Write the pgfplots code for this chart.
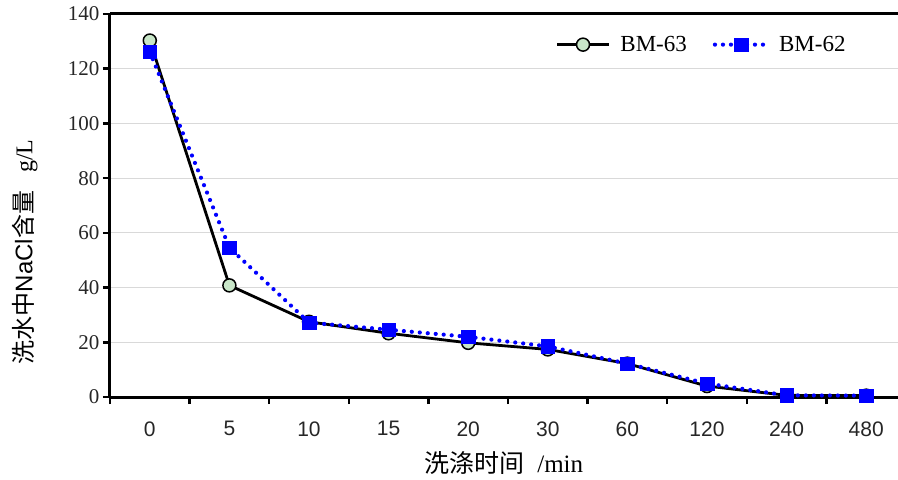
\documentclass[border=0pt]{standalone}
\usepackage{fontspec}
\setmainfont{Liberation Serif}
\setsansfont{Liberation Sans}
\newfontfamily\cjk{Noto Sans CJK SC}
\usepackage{pgfplots}
\pgfplotsset{compat=1.18}
\definecolor{mkfill}{RGB}{200,230,200}
\definecolor{gridc}{RGB}{217,217,217}
\begin{document}
\begin{tikzpicture}
\begin{axis}[
 name=ax,
 scale only axis, width=788pt, height=383pt,
 xmin=-0.5, xmax=9.4, ymin=0, ymax=140,
 axis x line=box, axis y line=left,
 x axis line style={-, line width=3pt},
 y axis line style={-, line width=3pt},
 xtick={0,...,9},
 xticklabels={0,5,10,15,20,30,60,120,240,480},
 major x tick style={draw=none},
 minor xtick={-0.5,0.5,...,8.5},
 minor x tick style={line width=2.5pt, black},
 minor tick length=7pt,
 xtick pos=left,
 ytick={0,20,...,140},
 ytick pos=left,
 major y tick style={line width=2.5pt, black},
 major tick length=7pt,
 tick align=outside,
 ymajorgrids, grid style={gridc, line width=1.2pt},
 /pgf/number format/assume math mode=true,
 xticklabel style={font=\sffamily\fontsize{21}{21}\selectfont, text=black!85, yshift=-14pt},
 yticklabel style={font=\fontsize{21}{21}\selectfont, text=black!85},
 xlabel={{\cjk 洗涤时间}\ \ /min},
 xlabel style={font=\fontsize{25}{25}\selectfont, at={(axis description cs:0.5,-0.172)}, anchor=center},
 ylabel={{\cjk 洗水中}{\sffamily NaCl}{\cjk 含量}\ \ \ g/L},
 ylabel style={font=\fontsize{24}{24}\selectfont, at={(axis description cs:-0.108,0.379)}, anchor=center, rotate=0},
 legend style={draw=none, fill=none, at={(0.94,0.92)}, anchor=east, legend columns=2,
   font=\fontsize{23}{23}\selectfont,
   /tikz/every odd column/.append style={column sep=8pt},
   /tikz/every even column/.append style={column sep=24pt}},
 legend image code/.code={\draw[mark repeat=2,mark phase=2,#1] plot coordinates {(0pt,0pt) (26pt,0pt) (52pt,0pt)};},
]
\addplot[black, line width=2.8pt, mark=*, mark size=6.5pt,
  mark options={fill=mkfill, draw=black, line width=1.5pt}]
  coordinates {(0,130.3) (1,40.8) (2,27.5) (3,23.3) (4,19.8) (5,17.4) (6,12.2) (7,4.0) (8,0.6) (9,0.5)};
\addlegendentry{BM-63}
\addplot[blue, line width=4.2pt, line cap=round, dash pattern=on 0pt off 8pt,
  mark=square*, mark size=6.8pt,
  mark options={solid, fill=blue, draw=blue, line width=0.5pt}]
  coordinates {(0,126.2) (1,54.6) (2,27.2) (3,24.6) (4,22.0) (5,18.5) (6,12.2) (7,4.9) (8,0.6) (9,0.5)};
\addlegendentry{BM-62}
\end{axis}
\pgfresetboundingbox
\path ([xshift=-110pt,yshift=-82pt]ax.south west) rectangle ([yshift=14pt]ax.north east);
\end{tikzpicture}
\end{document}
